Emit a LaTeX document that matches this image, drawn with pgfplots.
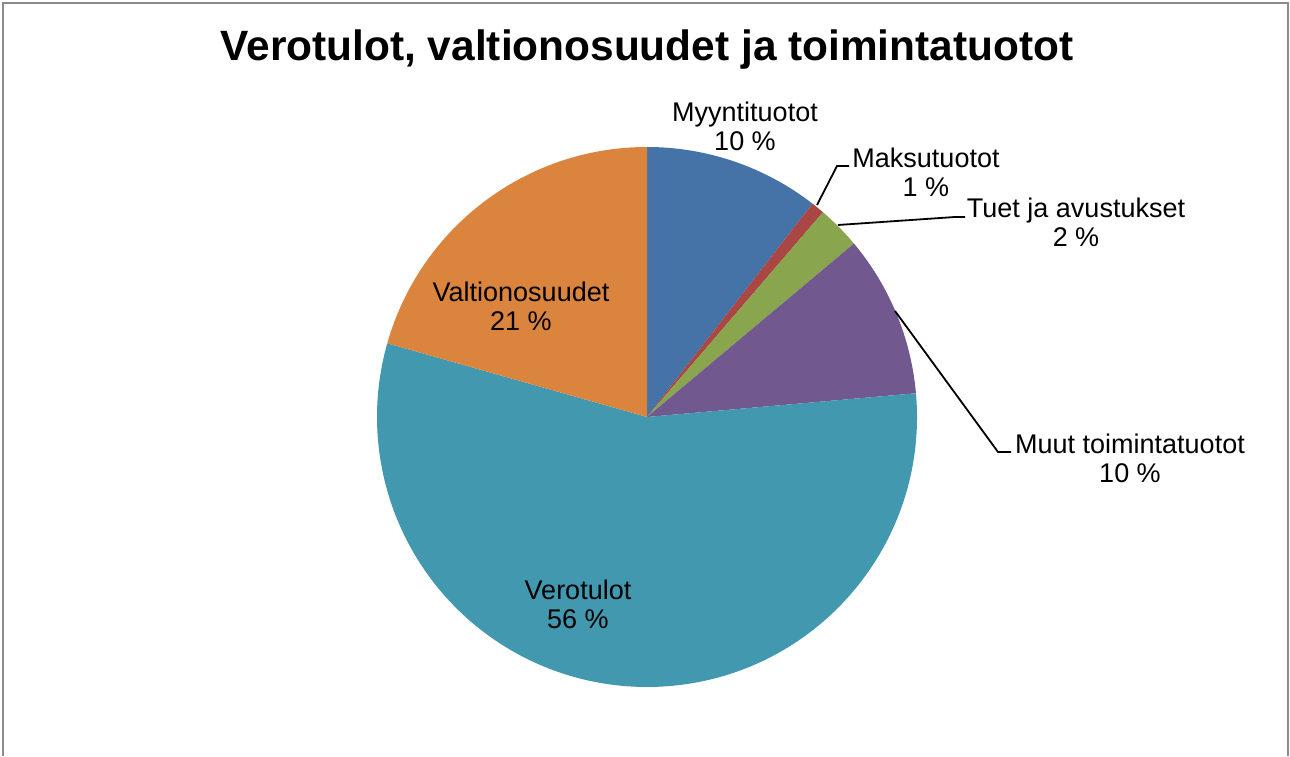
\documentclass[border=0pt]{standalone}
\usepackage{pgfplots}
\usepackage{pgfplotstable}
\pgfplotsset{compat=1.18}
\usepackage{fontspec}
\setmainfont{Liberation Sans}

\definecolor{c0}{HTML}{4572A7}
\definecolor{c1}{HTML}{AA4643}
\definecolor{c2}{HTML}{89A54E}
\definecolor{c3}{HTML}{71588F}
\definecolor{c4}{HTML}{4198AF}
\definecolor{c5}{HTML}{DB843D}
\definecolor{framegray}{HTML}{8C8C8C}

% shares in percent, clockwise from 12 o'clock
\pgfplotstableread{
value
10.5
0.8
2.6
9.7
55.8
20.6
}\piedata

\begin{document}
\begin{tikzpicture}
\begin{axis}[
  scale only axis,
  width=1290pt, height=756pt,
  xmin=0, xmax=1290, ymin=0, ymax=756,
  hide axis, clip=false,
]
\path (axis cs:0,0) rectangle (axis cs:1290,756);
\pgfplotsextra{
  \xdef\cum{0}
  \foreach \i in {0,...,5} {
    \pgfplotstablegetelem{\i}{value}\of\piedata
    \let\v\pgfplotsretval
    \pgfmathsetmacro\a{90-3.6*\cum}
    \pgfmathsetmacro\b{90-3.6*(\cum+\v)}
    \fill[c\i] (axis cs:647,339) -- ++(\a:270pt) arc[start angle=\a, end angle=\b, radius=270pt] -- cycle;
    \pgfmathsetmacro\newcum{\cum+\v}
    \xdef\cum{\newcum}
  }
  % frame
  \draw[framegray, line width=2pt] (axis cs:3,0) -- (axis cs:3,753) -- (axis cs:1288,753) -- (axis cs:1288,0);
  % leader lines
  \draw[black, line width=1.8pt] (axis cs:817,551) -- (axis cs:837,590) -- (axis cs:849,590);
  \draw[black, line width=1.8pt] (axis cs:838,531) -- (axis cs:955,539) -- (axis cs:965,539);
  \draw[black, line width=1.8pt] (axis cs:895,445) -- (axis cs:998,304) -- (axis cs:1011,304);
}
\node[anchor=base, font=\fontsize{42.4}{48}\selectfont\bfseries] at (axis cs:647,695) {Verotulot, valtionosuudet ja toimintatuotot};
\tikzset{lbl/.style={align=center, font=\fontsize{27}{29}\selectfont, inner sep=0pt}}
\node[lbl] at (axis cs:745,630) {Myyntituotot\\10 \%};
\node[lbl] at (axis cs:926,583.5) {Maksutuotot\\1 \%};
\node[lbl] at (axis cs:1076,533.5) {Tuet ja avustukset\\2 \%};
\node[lbl] at (axis cs:1130,298) {Muut toimintatuotot\\10 \%};
\node[lbl] at (axis cs:521,450) {Valtionosuudet\\21 \%};
\node[lbl] at (axis cs:578,152) {Verotulot\\56 \%};
\end{axis}
\end{tikzpicture}
\end{document}
